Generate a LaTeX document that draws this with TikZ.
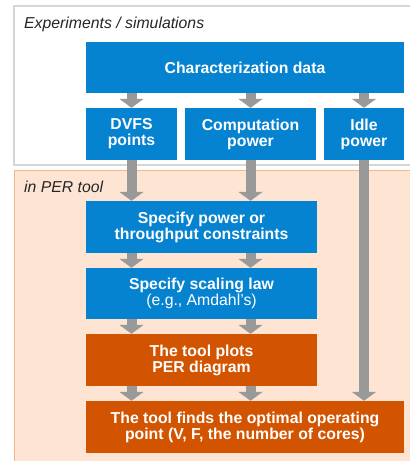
\documentclass[tikz,border=0pt]{standalone}
\usepackage{fontspec}
\setmainfont{Liberation Sans}
\usetikzlibrary{arrows.meta}
\definecolor{boxblue}{HTML}{0683D0}
\definecolor{boxorange}{HTML}{D35400}
\definecolor{peach}{HTML}{FDE4D3}
\definecolor{peachline}{HTML}{F7B58A}
\definecolor{framegray}{HTML}{D6D6D6}
\definecolor{arrowgray}{HTML}{999999}
\begin{document}
\begin{tikzpicture}[x=1pt,y=-1pt,
  box/.style={draw=none,text=white,align=center,inner sep=0pt,
    font=\fontsize{15.8}{16}\selectfont\bfseries},
  bluebox/.style={box,fill=boxblue},
  orangebox/.style={box,fill=boxorange},
  garrow/.style={draw=arrowgray,line width=10pt,
    -{Triangle[width=24pt,length=9pt]}},
  caption/.style={anchor=west,inner sep=0pt,text=black!85,
    font=\fontsize{15.8}{16}\selectfont\itshape}]
\useasboundingbox (0,0) rectangle (410,461);
\begin{scope}
\clip (0,0) rectangle (410,461);
\draw[framegray,line width=1.2pt,fill=white] (14,6) rectangle (430,165);
\draw[peachline,line width=1pt,fill=peach] (14,170) rectangle (430,480);
\end{scope}
\node[caption] (lab1) at (24,24.5) {Experiments / simulations};
\node[caption] (lab2) at (24,187) {in PER tool};

\node[bluebox,minimum width=318pt,minimum height=51pt] (char) at (245,67.5) {Characterization data};
\node[bluebox,minimum width=91pt,minimum height=52pt] (dvfs) at (131.5,134) {DVFS\\points};
\node[bluebox,minimum width=131pt,minimum height=52pt] (comp) at (250.5,134) {Computation\\power};
\node[bluebox,minimum width=80pt,minimum height=52pt] (idle) at (364,134) {Idle\\power};
\node[bluebox,minimum width=231pt,minimum height=52pt] (spec1) at (201.5,227) {Specify power or\\throughput constraints};
\node[bluebox,minimum width=231pt,minimum height=51pt] (spec2) at (201.5,293.5) {Specify scaling law\\{\mdseries(e.g., Amdahl's)}};
\node[orangebox,minimum width=231pt,minimum height=52pt] (plots) at (201.5,360) {The tool plots\\PER diagram};
\node[orangebox,minimum width=318pt,minimum height=52pt] (final) at (245,427) {The tool finds the optimal operating\\point (V, F, the number of cores)};

\draw[garrow] (char.south -| dvfs.north) -- (dvfs.north);
\draw[garrow] (char.south -| comp.north) -- (comp.north);
\draw[garrow] (char.south -| idle.north) -- (idle.north);
\draw[garrow] (dvfs.south) -- (dvfs.south |- spec1.north);
\draw[garrow] (comp.south) -- (comp.south |- spec1.north);
\draw[garrow] (idle.south) -- (idle.south |- final.north);
\draw[garrow] (spec1.south -| dvfs.south) -- (spec2.north -| dvfs.south);
\draw[garrow] (spec1.south -| comp.south) -- (spec2.north -| comp.south);
\draw[garrow] (spec2.south -| dvfs.south) -- (plots.north -| dvfs.south);
\draw[garrow] (spec2.south -| comp.south) -- (plots.north -| comp.south);
\draw[garrow] (plots.south -| dvfs.south) -- (final.north -| dvfs.south);
\draw[garrow] (plots.south -| comp.south) -- (final.north -| comp.south);
\end{tikzpicture}
\end{document}
